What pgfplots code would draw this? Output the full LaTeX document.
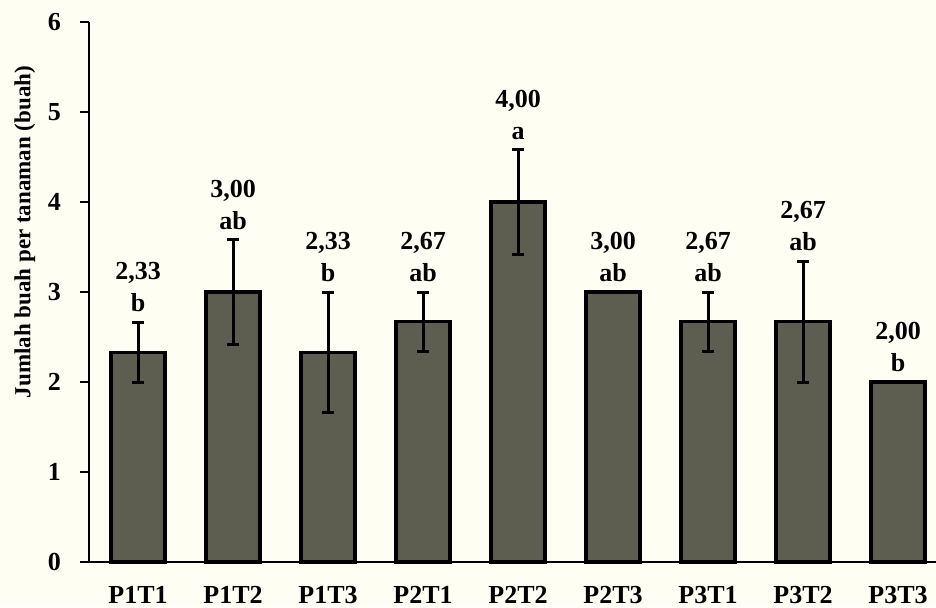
\documentclass[border=0pt]{standalone}
\usepackage{pgfplots}
\pgfplotsset{compat=1.18}
\usepackage{pgfplotstable}
\usepackage{fontspec}
\setmainfont{Liberation Serif}

\definecolor{bgcream}{RGB}{254,254,242}
\definecolor{barfill}{RGB}{94,94,80}

% treatment, mean, standard error, letter group
\pgfplotstableread{
x y err grp
0 2.33 0.33 b
1 3.00 0.58 ab
2 2.33 0.67 b
3 2.67 0.33 ab
4 4.00 0.58 a
5 3.00 0.00 ab
6 2.67 0.33 ab
7 2.67 0.67 ab
8 2.00 0.00 b
}\data

\begin{document}
\begin{tikzpicture}
\fill[bgcream] (-44.5pt,-22.5pt) rectangle (423.5pt,281pt);
\useasboundingbox (-44.5pt,-22.5pt) rectangle (423.5pt,281pt);
\begin{axis}[
  at={(0,0)}, anchor=south west,
  scale only axis,
  width=423.5pt, height=270pt,
  xmin=-0.516, xmax=8.4,
  ymin=0, ymax=6,
  ytick={0,1,2,3,4,5,6},
  xtick=data,
  xticklabels={P1T1,P1T2,P1T3,P2T1,P2T2,P2T3,P3T1,P3T2,P3T3},
  axis x line=bottom, axis y line=left,
  axis line style={-, line width=1.4pt, black},
  x axis line style={-},
  y axis line style={-},
  xtick style={draw=none},
  ytick style={line width=1.3pt, black},
  tick align=outside,
  major tick length=4.5pt,
  /pgf/number format/assume math mode=true,
  font=\bfseries\fontsize{13}{15}\selectfont,
  yticklabel style={font=\bfseries\fontsize{13}{15}\selectfont, xshift=-6pt},
  xticklabel style={font=\bfseries\fontsize{13}{15}\selectfont, yshift=-4pt},
  ylabel={Jumlah buah per tanaman (buah)},
  ylabel style={font=\bfseries\fontsize{11.5}{13}\selectfont, at={(axis description cs:-0.0756,0.611)}, anchor=center},
  clip=false,
  /pgfplots/error bars/error bar style={line width=1.5pt, black},
  /pgfplots/error bars/error mark options={rotate=90, line width=1.5pt, mark size=3pt, black},
]
\addplot[ybar, bar width=27pt, fill=barfill, draw=black, line width=1.6pt,
  error bars/.cd, y dir=both, y explicit, error mark=-]
  table[x=x, y=y, y error=err]{\data};
% mean and letter group above the error bars
\addplot[only marks, mark=none, point meta=explicit symbolic,
  visualization depends on={\thisrow{y}\as\meanval},
  nodes near coords={\pgfmathprintnumber[fixed,fixed zerofill,precision=2,use comma,assume math mode=true]{\meanval}\\\pgfplotspointmeta},
  every node near coord/.append style={align=center, anchor=south, inner sep=0pt, yshift=5pt,
    font=\bfseries\fontsize{13}{16}\selectfont, black}]
  table[x=x, y expr=\thisrow{y}+\thisrow{err}, meta=grp]{\data};
\end{axis}
\end{tikzpicture}
\end{document}
